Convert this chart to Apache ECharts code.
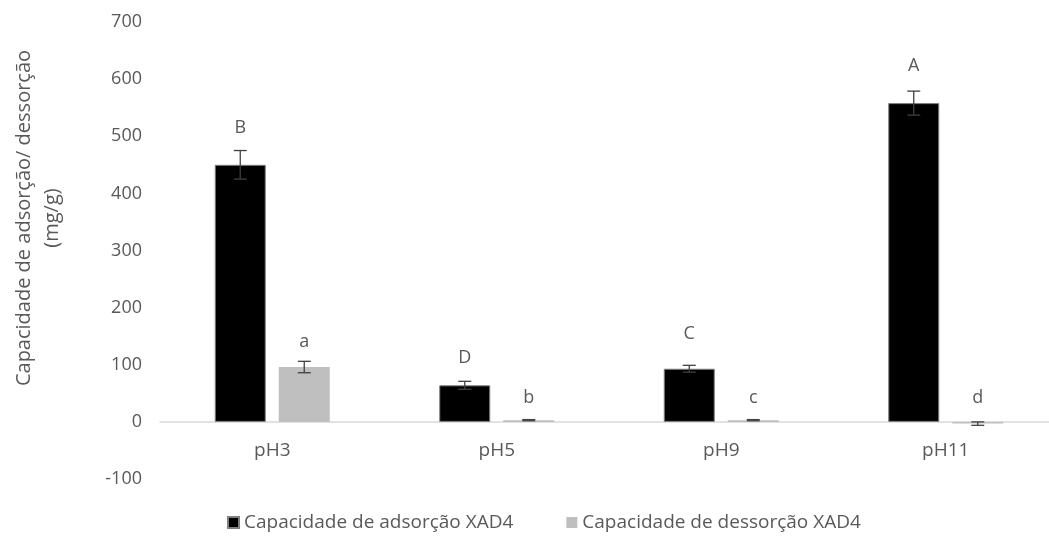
<!DOCTYPE html>
<html>
<head>
<meta charset="utf-8">
<script src="https://cdn.jsdelivr.net/npm/echarts@6/dist/echarts.min.js"></script>
<style>
  html, body { margin: 0; padding: 0; background: #ffffff; }
  #chart { width: 1049px; height: 540px; }
</style>
</head>
<body>
<div id="chart"></div>
<script>
// Adsorption / desorption capacity of XAD4 resin at each pH (mg/g)
const categories = ['pH3', 'pH5', 'pH9', 'pH11'];
const adsorcao = [450, 64, 93, 558];
const adsorcaoErro = [25, 7, 6, 21];
const dessorcao = [96, 3, 3, -3];
const dessorcaoErro = [10, 1, 1, 3];
const letrasAdsorcao = ['B', 'D', 'C', 'A'];
const letrasDessorcao = ['a', 'b', 'c', 'd'];
const yMin = -100, yMax = 700, yStep = 100;

const FONT = '"Open Sans", "Noto Sans", sans-serif';
const TEXT = '#595959';
const BAR_W = 51;
const BAR_GAP = 13;
const OFFSET = (BAR_W + BAR_GAP) / 2;
const GRID = { left: 160, right: -9, top: 22, bottom: 61 };
// pixel distance from the bottom of the plot to the zero line
const ZERO_LIFT = (540 - GRID.top - GRID.bottom) * (0 - yMin) / (yMax - yMin);

const chart = echarts.init(document.getElementById('chart'));

// Error whiskers plus the significance letter above each bar
function whiskers(values, errors, letters, shift, gaps) {
  return {
    type: 'custom',
    silent: true,
    z: 5,
    data: values.map((v, i) => [i, v, errors[i]]),
    renderItem: function (params, api) {
      const i = api.value(0), v = api.value(1), e = api.value(2);
      const hi = api.coord([i, v + e]);
      const lo = api.coord([i, v - e]);
      const x = hi[0] + shift;
      const cap = 6.5;
      const style = { stroke: '#404040', lineWidth: 1.3 };
      const topY = Math.min(hi[1], api.coord([i, 0])[1]);
      return {
        type: 'group',
        children: [
          { type: 'line', shape: { x1: x, y1: hi[1], x2: x, y2: lo[1] }, style },
          { type: 'line', shape: { x1: x - cap, y1: hi[1], x2: x + cap, y2: hi[1] }, style },
          { type: 'line', shape: { x1: x - cap, y1: lo[1], x2: x + cap, y2: lo[1] }, style },
          {
            type: 'text',
            x: x, y: topY - gaps[i],
            style: {
              text: letters[i], fill: TEXT, font: '18px ' + FONT,
              align: 'center', verticalAlign: 'middle'
            }
          }
        ]
      };
    }
  };
}

chart.setOption({
  animation: false,
  backgroundColor: '#ffffff',
  textStyle: { fontFamily: FONT },
  grid: Object.assign({ outerBoundsMode: 'none' }, GRID),
  legend: {
    top: 508,
    left: 222,
    itemWidth: 11,
    itemHeight: 11,
    itemGap: 53,
    icon: 'rect',
    textStyle: { color: TEXT, fontSize: 19, fontFamily: FONT },
    data: ['Capacidade de adsorção XAD4', 'Capacidade de dessorção XAD4']
  },
  graphic: [{
    type: 'text',
    x: 38, y: 218,
    rotation: Math.PI / 2,
    style: {
      text: 'Capacidade de adsorção/ dessorção\n(mg/g)',
      fill: TEXT, font: '20px ' + FONT,
      align: 'center', verticalAlign: 'middle', lineHeight: 28
    }
  }],
  xAxis: {
    type: 'category',
    data: categories,
    offset: -ZERO_LIFT,
    axisLine: { show: true, onZero: false, lineStyle: { color: '#d9d9d9', width: 1.5 } },
    axisTick: { show: false },
    axisLabel: { color: TEXT, fontSize: 19, fontFamily: FONT, margin: 19 },
    splitLine: { show: false }
  },
  yAxis: {
    type: 'value',
    min: yMin, max: yMax, interval: yStep,
    axisLine: { show: false },
    axisTick: { show: false },
    axisLabel: { color: TEXT, fontSize: 18, fontFamily: FONT, margin: 18 },
    splitLine: { show: false }
  },
  series: [
    {
      name: 'Capacidade de adsorção XAD4',
      type: 'bar',
      barWidth: BAR_W,
      barGap: (BAR_GAP / BAR_W * 100) + '%',
      itemStyle: { color: '#000000', borderColor: '#7f7f7f', borderWidth: 1 },
      data: adsorcao
    },
    {
      name: 'Capacidade de dessorção XAD4',
      type: 'bar',
      barWidth: BAR_W,
      itemStyle: { color: '#bfbfbf' },
      data: dessorcao
    },
    whiskers(adsorcao, adsorcaoErro, letrasAdsorcao, -OFFSET, [23, 23, 31, 25]),
    whiskers(dessorcao, dessorcaoErro, letrasDessorcao, OFFSET, [19, 22, 22, 24])
  ]
});
</script>
</body>
</html>
